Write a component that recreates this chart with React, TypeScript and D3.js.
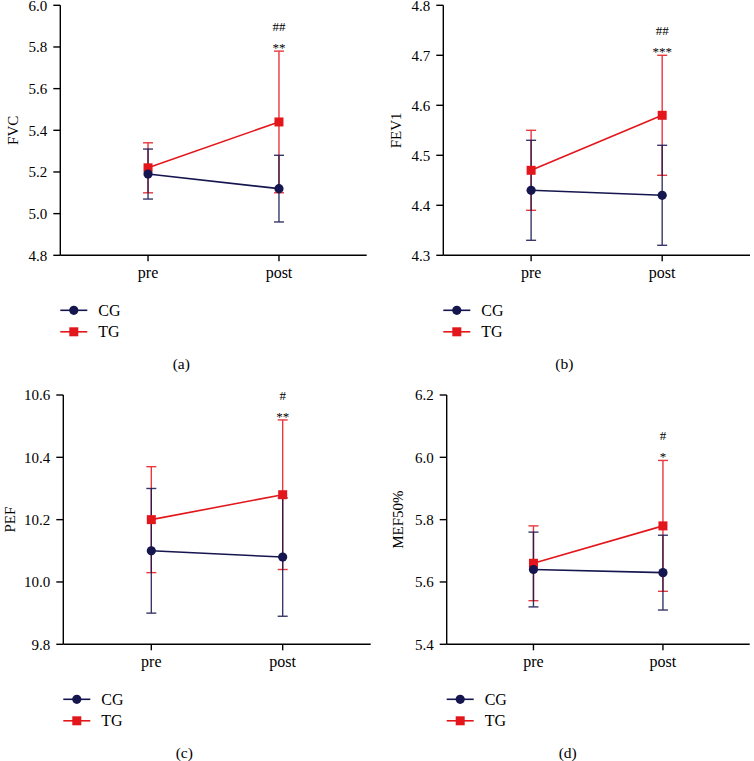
import React from "react";
import * as d3 from "d3";

// ---- data ----
const phases = ["pre", "post"];
const seriesNames = ["CG", "TG"];

const fvcCG = [5.19, 5.12];
const fvcCGsd = [0.12, 0.16];
const fvcTG = [5.22, 5.44];
const fvcTGsd = [0.12, 0.34];
const fvcTicks = [4.8, 5.0, 5.2, 5.4, 5.6, 5.8, 6.0];

const fev1CG = [4.43, 4.42];
const fev1CGsd = [0.1, 0.1];
const fev1TG = [4.47, 4.58];
const fev1TGsd = [0.08, 0.12];
const fev1Ticks = [4.3, 4.4, 4.5, 4.6, 4.7, 4.8];

const pefCG = [10.1, 10.08];
const pefCGsd = [0.2, 0.19];
const pefTG = [10.2, 10.28];
const pefTGsd = [0.17, 0.24];
const pefTicks = [9.8, 10.0, 10.2, 10.4, 10.6];

const mefCG = [5.64, 5.63];
const mefCGsd = [0.12, 0.12];
const mefTG = [5.66, 5.78];
const mefTGsd = [0.12, 0.21];
const mefTicks = [5.4, 5.6, 5.8, 6.0, 6.2];

const marks = [
    ["##", "**"],
    ["##", "***"],
    ["#", "**"],
    ["#", "*"],
];

const NAVY = "#15154f";
const RED = "#e3161b";
const FONT = "'Liberation Serif', 'DejaVu Serif', serif";

type PanelProps = {
    x0: number;
    y0: number;
    x1: number;
    y1: number;
    label: string;
    labelOffset: number;
    caption: string;
    cg: number[];
    cgSd: number[];
    tg: number[];
    tgSd: number[];
    ticks: number[];
    sig: string[];
};

const Panel: React.FC<PanelProps> = ({ x0, y0, x1, y1, label, labelOffset, caption, cg, cgSd, tg, tgSd, ticks, sig }) => {
    const x = d3.scalePoint<string>().domain(phases).range([x0, x1]).padding(0.67);
    const y = d3.scaleLinear().domain(d3.extent(ticks) as [number, number]).range([y1, y0]);
    const fmt = d3.format(".1f");
    const line = d3.line<number>().x((_, i) => x(phases[i])!).y(d => y(d));
    const cap = 5;

    const errBars = (vals: number[], sd: number[], color: string, key: string) =>
        vals.map((v, i) => {
            const cx = x(phases[i])!;
            const top = y(v + sd[i]);
            const bot = y(v - sd[i]);
            return (
                <g key={key + i} stroke={color} strokeWidth={1.4} opacity={0.85}>
                    <line x1={cx} x2={cx} y1={top} y2={bot} />
                    <line x1={cx - cap} x2={cx + cap} y1={top} y2={top} />
                    <line x1={cx - cap} x2={cx + cap} y1={bot} y2={bot} />
                </g>
            );
        });

    const postX = x("post")!;
    const topCap = y(tg[1] + tgSd[1]);

    return (
        <g fontFamily={FONT}>
            {/* axes */}
            <line x1={x0} x2={x0} y1={y0} y2={y1} stroke="#000" strokeWidth={1.4} />
            <line x1={x0} x2={x1} y1={y1} y2={y1} stroke="#000" strokeWidth={1.4} />
            {ticks.map(t => (
                <g key={t}>
                    <line x1={x0 - 7} x2={x0} y1={y(t)} y2={y(t)} stroke="#000" strokeWidth={1.4} />
                    <text x={x0 - 13} y={y(t)} dy="0.35em" textAnchor="end" fontSize={15}>
                        {fmt(t)}
                    </text>
                </g>
            ))}
            {phases.map(p => (
                <g key={p}>
                    <line x1={x(p)} x2={x(p)} y1={y1} y2={y1 + 6} stroke="#000" strokeWidth={1.4} />
                    <text x={x(p)} y={y1 + 23} textAnchor="middle" fontSize={16}>
                        {p}
                    </text>
                </g>
            ))}
            <text
                transform={`translate(${x0 - labelOffset},${(y0 + y1) / 2}) rotate(-90)`}
                textAnchor="middle"
                dy="0.35em"
                fontSize={15}
            >
                {label}
            </text>

            {/* error bars */}
            {errBars(tg, tgSd, RED, "tg")}
            {errBars(cg, cgSd, NAVY, "cg")}

            {/* lines */}
            <path d={line(tg)!} fill="none" stroke={RED} strokeWidth={1.6} />
            <path d={line(cg)!} fill="none" stroke={NAVY} strokeWidth={1.6} />

            {/* markers */}
            {tg.map((v, i) => (
                <rect key={"s" + i} x={x(phases[i])! - 4.5} y={y(v) - 4.5} width={9} height={9} fill={RED} />
            ))}
            {cg.map((v, i) => (
                <circle key={"c" + i} cx={x(phases[i])} cy={y(v)} r={4.6} fill={NAVY} />
            ))}

            {/* significance marks */}
            <text x={postX} y={topCap - 20} textAnchor="middle" fontSize={13}>
                {sig[0]}
            </text>
            <text x={postX} y={topCap + 1} textAnchor="middle" fontSize={13}>
                {sig[1]}
            </text>

            {/* legend */}
            {seriesNames.map((s, i) => {
                const ly = y1 + 55 + i * 21.5;
                const color = i === 0 ? NAVY : RED;
                return (
                    <g key={s}>
                        <line x1={x0} x2={x0 + 27} y1={ly} y2={ly} stroke={color} strokeWidth={1.6} />
                        {i === 0 ? (
                            <circle cx={x0 + 13.5} cy={ly} r={4.6} fill={color} />
                        ) : (
                            <rect x={x0 + 9} y={ly - 4.5} width={9} height={9} fill={color} />
                        )}
                        <text x={x0 + 38} y={ly} dy="0.35em" fontSize={16}>
                            {s}
                        </text>
                    </g>
                );
            })}

            <text x={x0 + 121} y={y1 + 108} dy="0.35em" textAnchor="middle" fontSize={15.5}>
                {caption}
            </text>
        </g>
    );
};

export default function App() {
    return (
        <svg
            width={754}
            height={761}
            style={{ position: "absolute", left: 0, top: 0, background: "#fff" }}
        >
            <Panel x0={60.3} y0={5.3} x1={366.7} y1={255.3} label="FVC" labelOffset={48} caption="(a)"
                cg={fvcCG} cgSd={fvcCGsd} tg={fvcTG} tgSd={fvcTGsd} ticks={fvcTicks} sig={marks[0]} />
            <Panel x0={443.3} y0={5.3} x1={750} y1={255.3} label="FEV1" labelOffset={48} caption="(b)"
                cg={fev1CG} cgSd={fev1CGsd} tg={fev1TG} tgSd={fev1TGsd} ticks={fev1Ticks} sig={marks[1]} />
            <Panel x0={63.3} y0={395} x1={370.7} y1={644.3} label="PEF" labelOffset={54} caption="(c)"
                cg={pefCG} cgSd={pefCGsd} tg={pefTG} tgSd={pefTGsd} ticks={pefTicks} sig={marks[2]} />
            <Panel x0={446.7} y0={395} x1={749.7} y1={644.3} label="MEF50%" labelOffset={49} caption="(d)"
                cg={mefCG} cgSd={mefCGsd} tg={mefTG} tgSd={mefTGsd} ticks={mefTicks} sig={marks[3]} />
        </svg>
    );
}
